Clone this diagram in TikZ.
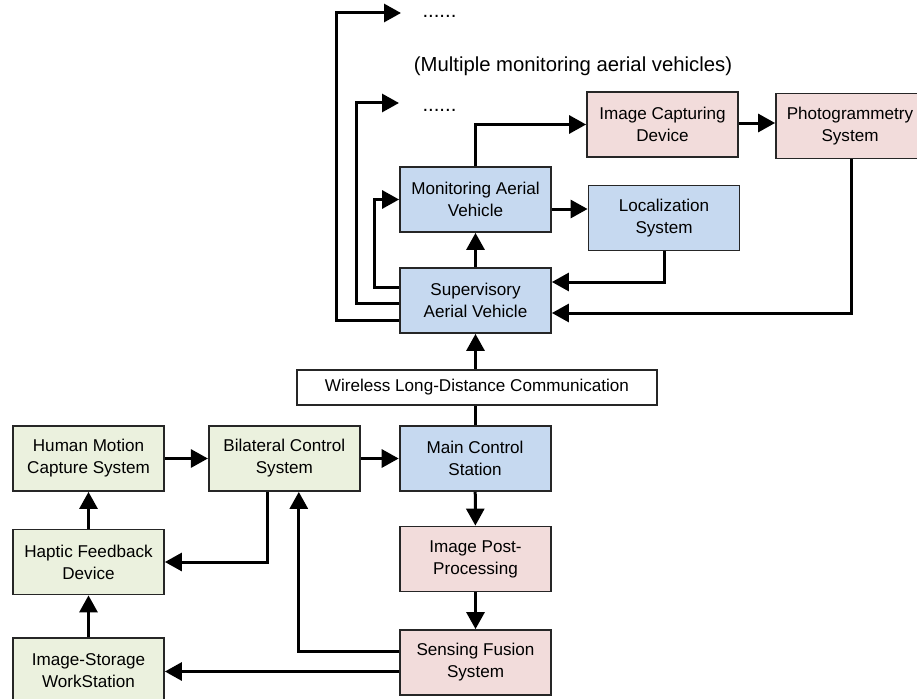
\documentclass[tikz,border=0pt]{standalone}
\usepackage{fontspec}
\setmainfont{Liberation Sans}
\usetikzlibrary{positioning,calc}
\usetikzlibrary{arrows.meta}

\definecolor{uavblue}{RGB}{198,217,240}
\definecolor{imgpink}{RGB}{242,220,219}
\definecolor{opgreen}{RGB}{235,241,222}

\tikzset{
   blk/.style={draw=black!85, line width=1.8pt, minimum width=151pt,
      minimum height=65pt, inner sep=0pt, align=center,
      font=\fontsize{17.1}{22}\selectfont},
   blue/.style={blk, fill=uavblue},
   pink/.style={blk, fill=imgpink},
   green/.style={blk, fill=opgreen},
   conn/.style={line width=3pt, draw=black},
   arr/.style={conn, -{Triangle[length=17pt,width=18pt]}},
   big/.style={font=\fontsize{20.3}{24}\selectfont},
}

\begin{document}
\begin{tikzpicture}[x=1pt,y=-1pt]
      \useasboundingbox (0,0) rectangle (917,698);

      % aerial part
      \node[blue] (mav) at (475.5,199.5) {Monitoring Aerial\\Vehicle};
      \node[blue] (sav) at (475.5,300.5) {Supervisory\\Aerial Vehicle};
      \node[blue] (loc) at (664,218) {Localization\\System};
      \node[pink] (icd) at (662.5,124.5) {Image Capturing\\Device};
      \node[pink, minimum width=148pt] (pgs) at (850,126) {Photogrammetry\\System};

      \node[big] (multi) at (573,66) {(Multiple monitoring aerial vehicles)};
      \node[big, anchor=base west] (dotsa) at (419,18) {......};
      \node[big, anchor=base west] (dotsb) at (419,111) {......};
      \coordinate (enda) at (401,13);
      \coordinate (endb) at (399,103);

      % ground part
      \node[blk, minimum width=360pt, minimum height=35pt] (wlc) at (477,387.5)
         {Wireless Long-Distance Communication};
      \node[green] (hmc) at (88.5,458.5) {Human Motion\\Capture System};
      \node[green, right=43pt of hmc] (bcs) {Bilateral Control\\System};
      \node[blue, right=38pt of bcs] (mcs) {Main Control\\Station};
      \node[green] (hfd) at (88.5,562) {Haptic Feedback\\Device};
      \node[green] (isw) at (88.5,670.5) {Image-Storage\\WorkStation};
      \node[pink] (ipp) at (475.5,559) {Image Post-\\Processing};
      \node[pink] (sfs) at (475.5,662.5) {Sensing Fusion\\System};

      \draw[arr] (hmc) -- (bcs);
      \draw[arr] (bcs) -- (mcs);
      \draw[arr] (mcs) -- (ipp);
      \draw[arr] (ipp) -- (sfs);
      \draw[conn] (mcs.north) -- (mcs.north |- wlc.south);
      \draw[arr] (sav.south |- wlc.north) -- (sav.south);
      \draw[arr] (sav) -- (mav);
      \draw[arr] (mav.east |- 0,209) -- (loc.west |- 0,209);
      \draw[arr] (isw) -- (hfd);
      \draw[arr] (hfd) -- (hmc);
      \draw[arr] (mav.north) |- (icd.west);
      \draw[arr] (icd.east |- 0,123) -- (pgs.west |- 0,123);
      \draw[arr] (loc.south) |- ([yshift=18.5pt]sav.east);
      \draw[arr] (pgs.south -| 851,0) |- ([yshift=-12.5pt]sav.east);
      \draw[arr] ([yshift=13.5pt]sav.west) -- ++(-25,0) |- (mav.west);
      \draw[arr] ([yshift=-2.5pt]sav.west) -- ++(-43,0) |- (endb);
      \draw[arr] ([yshift=-19.5pt]sav.west) -- ++(-63,0) |- (enda);
      \draw[arr] ([xshift=-17pt]bcs.south) |- (hfd.east);
      \draw[arr] ([yshift=11pt]sfs.west) -| ([xshift=14.5pt]bcs.south);
      \draw[arr] ([yshift=-9pt]sfs.west) -- ([yshift=-9pt]sfs.west -| isw.east);
\end{tikzpicture}
\end{document}
